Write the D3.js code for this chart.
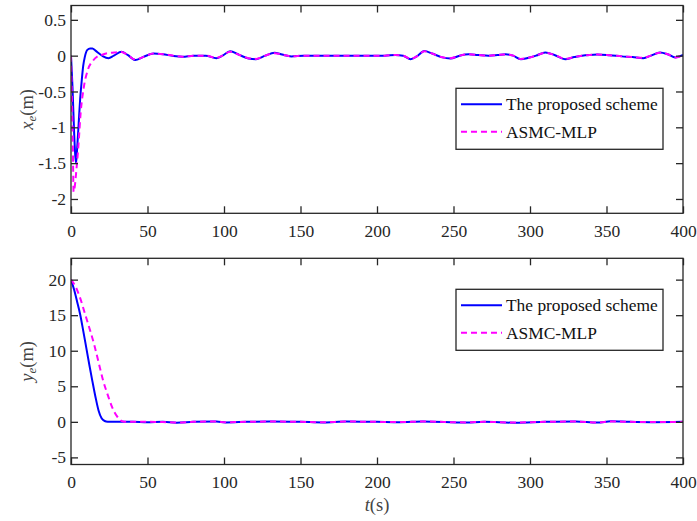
<!DOCTYPE html>
<html>
<head>
<meta charset="utf-8">
<script src="https://cdn.jsdelivr.net/npm/d3@7"></script>
<style>
  html, body { margin: 0; padding: 0; background: #fff; }
  svg { display: block; font-family: "Liberation Serif", "Times New Roman", serif; }
</style>
</head>
<body>
<svg id="chart" width="697" height="521"></svg>
<script>
// Series values, as [t (s), value (m)]
const xeProposed = [[0,0],[1,-0.45],[2,-1.05],[2.8,-1.4],[3.3,-1.5],[4,-1.3],[5,-0.95],[6,-0.6],[7,-0.35],[8,-0.14],[9,-0.02],[10.7,0.08],[12.5,0.1],[14,0.1],[16,0.07],[19,0.02],[21,-0.01],[24.5,-0.035],[28,0],[33,0.055],[37,0.01],[42,-0.06],[47,-0.02],[54,0.03],[60,0.02],[67,-0.005],[73,-0.015],[80,0],[88,0],[95,-0.035],[99,0],[104,0.06],[110,0.01],[116,-0.04],[121,-0.05],[127,0],[133,0.04],[138,0.015],[144,-0.01],[152,0],[165,0],[180,0],[195,0],[205,0],[212,0.01],[217,0],[222,-0.05],[226,-0.01],[231,0.065],[236,0.03],[242,-0.02],[248,-0.04],[254,0],[260,0.02],[266,0.01],[273,0],[279,0.01],[284,0.02],[289,0],[294,-0.05],[299,-0.03],[304,0],[310,0.045],[316,0.01],[323,-0.05],[329,-0.02],[334,0],[339,0.01],[344,0.015],[352,0.005],[360,-0.01],[367,-0.02],[374,-0.035],[379,0],[385,0.045],[390,0.02],[395,-0.025],[400,0.01]];
const xeAsmc = [[0,0],[0.6,-0.6],[1.1,-1.1],[1.7,-1.9],[2.5,-1.82],[3.5,-1.6],[4.8,-1.27],[6.3,-0.8],[8.3,-0.45],[11,-0.2],[14.4,-0.07],[17,-0.015],[20,0.01],[23,0.03],[26,0.04],[29,0.045],[33,0.05],[37,0.01],[42,-0.055],[47,-0.02],[54,0.03],[60,0.02],[67,0],[73,-0.015],[80,0],[88,0],[95,-0.03],[99,0],[104,0.055],[110,0.01],[116,-0.035],[121,-0.045],[127,0],[133,0.035],[138,0.015],[144,-0.01],[152,0],[165,0],[180,0],[195,0],[205,0],[212,0.01],[217,0],[222,-0.045],[226,-0.01],[231,0.06],[236,0.03],[242,-0.02],[248,-0.035],[254,0],[260,0.02],[266,0.01],[273,0],[279,0.01],[284,0.015],[289,0],[294,-0.045],[299,-0.03],[304,0],[310,0.04],[316,0.01],[323,-0.045],[329,-0.02],[334,0],[339,0.01],[344,0.015],[352,0.005],[360,-0.01],[367,-0.02],[374,-0.03],[379,0],[385,0.04],[390,0.02],[395,-0.025],[400,0.01]];
const yeProposed = [[0,20],[2,18.6],[4,16.9],[6,15.1],[8,12.8],[10,10.4],[12,8.0],[14,5.7],[16,3.5],[18,1.6],[20,0.5],[22,0.12],[24,0.02],[27,0],[40,0],[50,-0.05],[60,0],[69,-0.12],[80,0],[95,0.05],[101,-0.08],[115,0],[130,0.05],[150,0],[165,-0.08],[180,0.05],[200,0],[215,-0.05],[230,0.05],[258,-0.1],[270,0],[290,-0.12],[310,0],[330,0.05],[344,-0.1],[353,0.08],[365,0],[380,-0.05],[400,0]];
const yeAsmc = [[0,20],[3,19],[6,17.4],[9,15.3],[12,13.2],[15,11],[18,8.4],[21,5.8],[24,3.8],[27,2.0],[30,0.8],[32,0.3],[34,0.05],[36,0],[50,0],[60,-0.03],[69,-0.1],[80,0],[95,0.04],[101,-0.06],[115,0],[130,0.04],[150,0],[165,-0.06],[180,0.04],[200,0],[215,-0.04],[230,0.04],[258,-0.08],[270,0],[290,-0.1],[310,0],[330,0.04],[344,-0.08],[353,0.06],[365,0],[380,-0.04],[400,0]];

// Axis ticks and labels
const xTicks = [0, 50, 100, 150, 200, 250, 300, 350, 400];
const xeTicks = [-2, -1.5, -1, -0.5, 0, 0.5];
const yeTicks = [-5, 0, 5, 10, 15, 20];
const legendNames = ["The proposed scheme", "ASMC-MLP"];

const ink = "#262626";
const blue = "#0000ff";
const magenta = "#ff00ff";

const svg = d3.select("#chart");
svg.append("rect").attr("width", 697).attr("height", 521).attr("fill", "#fff");

const left = 71, right = 683;
const x = d3.scaleLinear().domain([0, 400]).range([left, right]);

function drawPanel(opt) {
  const y = d3.scaleLinear().domain(opt.domain).range([opt.bottom, opt.top]);
  const g = svg.append("g");
  const clipId = "clip-" + opt.name;
  svg.append("clipPath").attr("id", clipId)
    .append("rect").attr("x", left).attr("y", opt.top)
    .attr("width", right - left).attr("height", opt.bottom - opt.top);

  const line = d3.line().x(d => x(d[0])).y(d => y(d[1])).curve(d3.curveMonotoneX);
  const lines = g.append("g").attr("clip-path", `url(#${clipId})`);
  lines.append("path").datum(opt.series[0])
    .attr("d", line).attr("fill", "none").attr("stroke", blue).attr("stroke-width", 2);
  lines.append("path").datum(opt.series[1])
    .attr("d", line).attr("fill", "none").attr("stroke", magenta).attr("stroke-width", 2)
    .attr("stroke-dasharray", "6,4");

  // axes: ticks inward on all four sides, labels bottom and left
  const tl = 7;
  const axB = g.append("g").attr("transform", `translate(0,${opt.bottom})`)
    .call(d3.axisBottom(x).tickValues(xTicks).tickSize(-tl).tickPadding(11).tickFormat(d3.format("d")));
  const axT = g.append("g").attr("transform", `translate(0,${opt.top})`)
    .call(d3.axisTop(x).tickValues(xTicks).tickSize(-tl).tickFormat(""));
  const axL = g.append("g").attr("transform", `translate(${left},0)`)
    .call(d3.axisLeft(y).tickValues(opt.ticks).tickSize(-tl).tickPadding(5).tickFormat(d => String(d)));
  const axR = g.append("g").attr("transform", `translate(${right},0)`)
    .call(d3.axisRight(y).tickValues(opt.ticks).tickSize(-tl).tickFormat(""));
  [axB, axT, axL, axR].forEach(a => {
    a.select(".domain").remove();
    a.selectAll("line").attr("stroke", ink).attr("stroke-width", 1.3);
    a.selectAll("text").attr("fill", ink).attr("font-size", 17.5)
      .attr("font-family", "Liberation Serif, serif");
  });
  axB.selectAll("text").attr("dy", "0.71em");

  g.append("rect").attr("x", left).attr("y", opt.top)
    .attr("width", right - left).attr("height", opt.bottom - opt.top)
    .attr("fill", "none").attr("stroke", ink).attr("stroke-width", 1.3);

  // y label, rotated: italic letter with subscript e, then (m)
  const cy = (opt.top + opt.bottom) / 2;
  const lab = g.append("text")
    .attr("transform", `translate(33,${cy}) rotate(-90)`)
    .attr("text-anchor", "middle").attr("font-size", 18.5).attr("fill", "#444");
  lab.append("tspan").attr("font-style", "italic").text(opt.letter);
  lab.append("tspan").attr("font-style", "italic").attr("font-size", 13).attr("dy", 3).text("e");
  lab.append("tspan").attr("dy", -3).text("(m)");

  // legend
  const lg = g.append("g").attr("transform", `translate(456,${opt.top + opt.legendTop})`);
  lg.append("rect").attr("width", 207).attr("height", 61)
    .attr("fill", "#fff").attr("stroke", ink).attr("stroke-width", 1.3);
  legendNames.forEach((name, i) => {
    const ry = 16 + i * 27.5;
    lg.append("line").attr("x1", 5).attr("x2", 46).attr("y1", ry).attr("y2", ry)
      .attr("stroke", i === 0 ? blue : magenta).attr("stroke-width", 2)
      .attr("stroke-dasharray", i === 0 ? null : "6,4");
    lg.append("text").attr("x", 50).attr("y", ry).attr("dy", "0.33em")
      .attr("font-size", 17.4).attr("fill", "#111").text(name);
  });
}

drawPanel({ name: "xe", top: 5.5, bottom: 213.3, domain: [-2.2, 0.7], ticks: xeTicks,
  series: [xeProposed, xeAsmc], letter: "x", legendTop: 82.8 });
drawPanel({ name: "ye", top: 258.3, bottom: 464.5, domain: [-6, 23], ticks: yeTicks,
  series: [yeProposed, yeAsmc], letter: "y", legendTop: 31 });

// x label t(s)
const xl = svg.append("text").attr("x", x(200)).attr("y", 511)
  .attr("text-anchor", "middle").attr("font-size", 18.5).attr("fill", "#444");
xl.append("tspan").attr("font-style", "italic").text("t");
xl.append("tspan").text("(s)");
</script>
</body>
</html>
